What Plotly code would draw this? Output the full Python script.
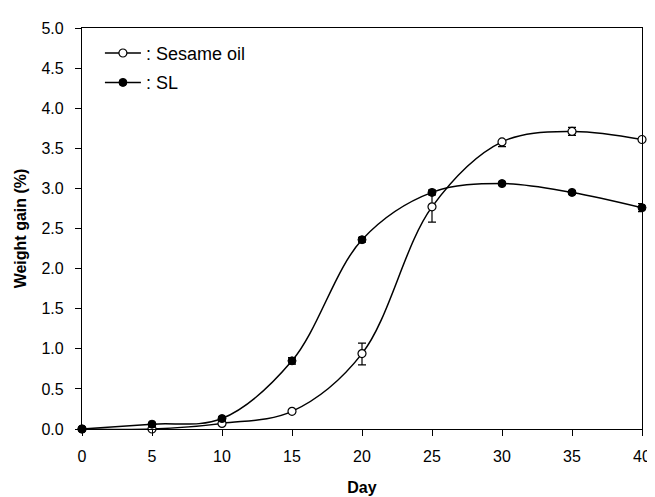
import plotly.graph_objects as go

days = [0, 5, 10, 15, 20, 25, 30, 35, 40]
sesame = [0.0, 0.0, 0.07, 0.22, 0.94, 2.77, 3.58, 3.71, 3.61]
sesame_err_plus = [0, 0, 0.01, 0.02, 0.13, 0.18, 0.01, 0.05, 0.01]
sesame_err_minus = [0, 0, 0.01, 0.02, 0.14, 0.19, 0.06, 0.05, 0.01]
sl = [0.0, 0.06, 0.13, 0.85, 2.36, 2.95, 3.06, 2.95, 2.76]
sl_err = [0, 0.01, 0.02, 0.04, 0.03, 0.03, 0.01, 0.02, 0.05]

x_ticks = [0, 5, 10, 15, 20, 25, 30, 35, 40]
y_ticks = [0.0, 0.5, 1.0, 1.5, 2.0, 2.5, 3.0, 3.5, 4.0, 4.5, 5.0]

fig = go.Figure()
fig.add_trace(go.Scatter(
    x=days, y=sesame, mode="lines+markers", name=": Sesame oil",
    legendgroup="a",
    line=dict(color="black", width=1.5, shape="spline"),
    marker=dict(symbol="circle", size=8, color="white", line=dict(color="black", width=1.2)),
    error_y=dict(type="data", array=sesame_err_plus, arrayminus=sesame_err_minus,
                 symmetric=False, color="black", thickness=1.2, width=4),
    cliponaxis=False,
))
fig.add_trace(go.Scatter(
    x=days, y=sl, mode="lines+markers", name=": SL",
    legendgroup="b",
    line=dict(color="black", width=1.5, shape="spline"),
    marker=dict(symbol="circle", size=8, color="black", line=dict(color="black", width=1)),
    error_y=dict(type="data", array=sl_err, color="black", thickness=1.2, width=4),
    cliponaxis=False,
))

fig.update_layout(
    width=655, height=497,
    margin=dict(l=71, r=20, t=16, b=76),
    paper_bgcolor="white", plot_bgcolor="white",
    font=dict(family="Liberation Sans, Arial, sans-serif", size=16, color="black"),
    showlegend=True,
    legend=dict(x=0.032, y=0.983, xanchor="left", yanchor="top",
                bgcolor="rgba(0,0,0,0)", font=dict(size=18),
                tracegroupgap=3, itemwidth=36),
    xaxis=dict(range=[0, 40], tickvals=x_ticks, ticktext=[str(v) for v in x_ticks],
               showgrid=False, zeroline=False, showline=True, linecolor="black", linewidth=1.2,
               mirror=True, ticks="outside", ticklen=6, tickcolor="black",
               ticklabelstandoff=7,
               title=dict(text="<b>Day</b>", font=dict(size=16), standoff=17)),
    yaxis=dict(range=[0, 5], tickvals=y_ticks, ticktext=[f"{v:.1f}" for v in y_ticks],
               showgrid=False, zeroline=False, showline=True, linecolor="black", linewidth=1.2,
               mirror=True, ticks="outside", ticklen=6, tickcolor="black",
               ticklabelstandoff=8,
               title=dict(text="<b>Weight gain (%)</b>", font=dict(size=16), standoff=10)),
)

fig.write_html("out.html")
